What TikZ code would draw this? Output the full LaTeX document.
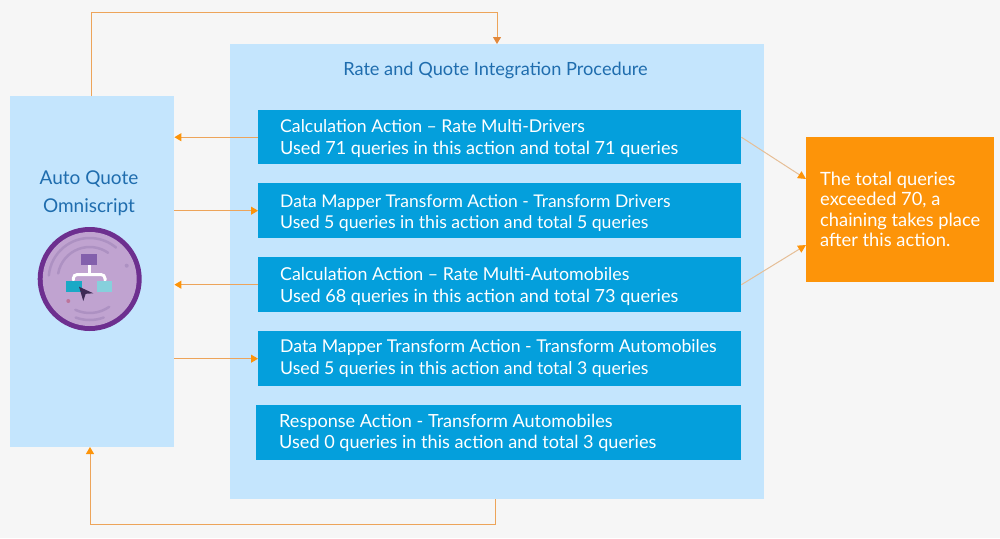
\documentclass[tikz,border=0pt]{standalone}
\usepackage{fontspec}
\setmainfont{Lato}
\usetikzlibrary{arrows.meta,calc}
\definecolor{bgc}{HTML}{F6F6F6}
\definecolor{panel}{HTML}{C4E5FD}
\definecolor{act}{HTML}{049FDC}
\definecolor{orangebox}{HTML}{FD9409}
\definecolor{conn}{HTML}{EDA45A}
\definecolor{connpale}{HTML}{E6BE96}
\definecolor{headtop}{HTML}{E2883A}
\definecolor{titleblue}{HTML}{1F6DAE}
\definecolor{ringdark}{HTML}{6D2F8F}
\definecolor{ringfill}{HTML}{C0A3D0}
\definecolor{ringline}{HTML}{AD91C2}
\definecolor{toprect}{HTML}{8360AC}
\definecolor{leftsq}{HTML}{1AA9C6}
\definecolor{rightsq}{HTML}{86D0DC}
\definecolor{cursorc}{HTML}{3E2A55}
\tikzset{
 x=1pt,y=-1pt,
 panelbox/.style={fill=panel,draw=none,anchor=north west,inner sep=0pt},
 actbox/.style={fill=act,draw=none,anchor=north west,inner sep=0pt},
 acttext/.style={anchor=base west,text=white,inner sep=0pt,font=\fontsize{#1}{22}\selectfont},
 warntext/.style={anchor=west,text=white,align=left,inner sep=0pt},
 title/.style={text=titleblue,align=center,inner sep=0pt},
 flow/.style={draw=conn,line width=1pt,-{Triangle[length=7pt,width=8pt,color=orangebox,fill=orangebox]}},
 flowtop/.style={draw=conn,line width=1pt,-{Triangle[length=7pt,width=8pt,color=headtop,fill=headtop]}},
 flowpale/.style={draw=connpale,line width=1pt,-{Triangle[length=8pt,width=8pt,color=orangebox,fill=orangebox]}},
 ringarc/.style={draw=ringline,line width=2.5pt,line cap=round},
}
\begin{document}
\begin{tikzpicture}
\useasboundingbox (0,0) rectangle (1000,538);
\fill[bgc] (0,0) rectangle (1000,538);
\node[panelbox,minimum width=164pt,minimum height=351pt] (left) at (10,96) {};
\node[panelbox,minimum width=534pt,minimum height=455pt] (big) at (230,44) {};
\node[title,font=\fontsize{18.2}{23}\selectfont] (bigt) at (495.5,70) {Rate and Quote Integration Procedure};
\node[title,font=\fontsize{19}{28}\selectfont] (leftt) at (89,193) {Auto Quote\\Omniscript};
\node[actbox,minimum width=483pt,minimum height=54pt] (a1) at (258,110) {};
\node[acttext=17.65] (a1t) at (280,132.3) {Calculation Action – Rate Multi-Drivers};
\node[acttext=18.1] (a1u) at (280,154) {Used 71 queries in this action and total 71 queries};
\node[actbox,minimum width=483pt,minimum height=55pt] (a2) at (258,183) {};
\node[acttext=17.5] (a2t) at (280,207) {Data Mapper Transform Action - Transform Drivers};
\node[acttext=17.67] (a2u) at (280,228.3) {Used 5 queries in this action and total 5 queries};
\node[actbox,minimum width=483pt,minimum height=55pt] (a3) at (258,257) {};
\node[acttext=17.8] (a3t) at (280,280.3) {Calculation Action – Rate Multi-Automobiles};
\node[acttext=18.1] (a3u) at (280,302) {Used 68 queries in this action and total 73 queries};
\node[actbox,minimum width=483pt,minimum height=55pt] (a4) at (258,331) {};
\node[acttext=17.7] (a4t) at (280,352.3) {Data Mapper Transform Action - Transform Automobiles};
\node[acttext=17.67] (a4u) at (280,374) {Used 5 queries in this action and total 3 queries};
\node[actbox,minimum width=485pt,minimum height=55pt] (a5) at (256,405) {};
\node[acttext=18.1] (a5t) at (279,427.8) {Response Action - Transform Automobiles};
\node[acttext=18.1] (a5u) at (279,448.7) {Used 0 queries in this action and total 3 queries};
\node[panelbox,fill=orangebox,minimum width=188pt,minimum height=145pt] (warn) at (806,137) {};
\node[warntext,font=\fontsize{18.3}{20.4}\selectfont] (warnt) at (820,209.5) {The total queries\\exceeded 70, a\\chaining takes place\\after this action.};
% connectors
\coordinate (lt) at (91,96);
\coordinate (bt) at (497,44);
\coordinate (bb) at (495,499);
\coordinate (lb) at (90,447);
\draw[flowtop] (lt) -- (lt |- 0,12) -- (bt |- 0,12) -- (bt);
\draw[flow] (bb) -- (bb |- 0,524) -- (lb |- 0,524) -- (lb);
\draw[flow] (a1.west) -- (a1.west -| left.east);
\draw[flow] (a2.west -| left.east) -- (a2.west);
\draw[flow] (a3.west) -- (a3.west -| left.east);
\draw[flow] (a4.west -| left.east) -- (a4.west);
\coordinate (w1) at (806,179);
\coordinate (w2) at (806,245);
\draw[flowpale] (a1.east) -- (w1);
\draw[flowpale] (a3.east) -- (w2);
% icon
\coordinate (ic) at (89.7,279);
\fill[ringdark] (ic) circle (52);
\fill[ringfill] (ic) circle (47);
\draw[ringarc] ($(ic)+(185:41)$) arc (185:310:41);
\draw[ringarc] ($(ic)+(190:32)$) arc (190:305:32);
\draw[ringarc] ($(ic)+(55:34)$) arc (55:115:34);
\draw[ringarc] ($(ic)+(70:41)$) arc (70:110:41);
\fill[ringline] (126.7,265.7) circle (2);
\fill[ringline!80!red] (68.3,301) circle (2);
\fill[toprect] (81,254) rectangle (97,265);
\draw[white,line width=3pt,line cap=round,rounded corners=4pt] (73.3,280) -- (73.3,274.5) -- (105,274.5) -- (105,280);
\draw[white,line width=3pt] (89.3,265) -- (89.3,274.5);
\fill[leftsq] (65.7,281) rectangle (81.7,292.3);
\fill[rightsq] (96.7,281) rectangle (112.3,292.3);
\fill[cursorc] (79,286.7) -- (93.3,293.3) -- (85.7,293.8) -- (83.3,301) -- cycle;
\end{tikzpicture}
\end{document}
